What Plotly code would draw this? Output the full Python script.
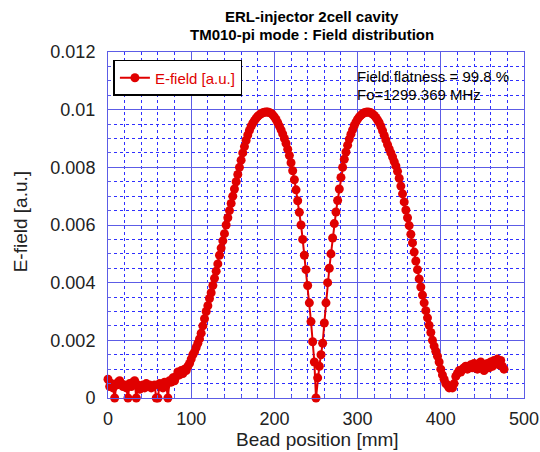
import plotly.graph_objects as go

# Bead position grid [mm] (2 mm step) and measured field values
position_mm = list(range(0, 478, 2))
efield = [
    0.00065, 0.00040, 0.00050, 0.00035, 0.0, 0.00045, 0.00055, 0.00060, 0.00050, 0.00040,
    0.00045, 0.00035, 0.0, 0.00050, 0.00040, 0.00055, 0.00060, 0.0, 0.00045, 0.00030,
    0.00040, 0.00045, 0.00035, 0.00050, 0.00040, 0.00045, 0.00035, 0.00040, 0.00045, 0.0,
    0.0, 0.00050, 0.00040, 0.00035, 0.00055, 0.00045, 0.0, 0.00060, 0.00055, 0.00070,
    0.00060, 0.00075, 0.00090, 0.00080, 0.00095, 0.00085, 0.00100, 0.00095, 0.00110, 0.00120,
    0.00135, 0.00150, 0.00160, 0.00175, 0.00190, 0.00205, 0.00225, 0.00250, 0.00275, 0.00300,
    0.00320, 0.00345, 0.00365, 0.00390, 0.00415, 0.00440, 0.00465, 0.00495, 0.00520, 0.00545,
    0.00570, 0.00600, 0.00625, 0.00650, 0.00675, 0.00700, 0.00725, 0.00750, 0.00775, 0.00800,
    0.00825, 0.00850, 0.00872, 0.00893, 0.00912, 0.00928, 0.00942, 0.00953, 0.00962, 0.00970,
    0.00977, 0.00982, 0.00986, 0.00989, 0.00991, 0.00992, 0.00992, 0.00990, 0.00987, 0.00982,
    0.00975, 0.00966, 0.00955, 0.00943, 0.00930, 0.00916, 0.00900, 0.00883, 0.00863, 0.00841,
    0.00816, 0.00788, 0.00757, 0.00722, 0.00684, 0.00644, 0.00600, 0.00550, 0.00495, 0.00445,
    0.00390, 0.00330, 0.00265, 0.00195, 0.00125, 0.0, 0.00070, 0.00110, 0.00150, 0.00190,
    0.00260, 0.00330, 0.00400, 0.00450, 0.00500, 0.00555, 0.00605, 0.00645, 0.00685, 0.00725,
    0.00765, 0.00800, 0.00828, 0.00853, 0.00877, 0.00898, 0.00915, 0.00930, 0.00945, 0.00957,
    0.00967, 0.00975, 0.00981, 0.00986, 0.00989, 0.00991, 0.00992, 0.00991, 0.00989, 0.00985,
    0.00980, 0.00973, 0.00964, 0.00955, 0.00942, 0.00927, 0.00911, 0.00895, 0.00879, 0.00864,
    0.00850, 0.00836, 0.00820, 0.00805, 0.00786, 0.00762, 0.00735, 0.00708, 0.00680, 0.00652,
    0.00625, 0.00598, 0.00568, 0.00538, 0.00506, 0.00475, 0.00445, 0.00413, 0.00385, 0.00357,
    0.00330, 0.00303, 0.00278, 0.00252, 0.00227, 0.00200, 0.00180, 0.00162, 0.00145, 0.00125,
    0.00100, 0.00080, 0.00065, 0.00050, 0.00045, 0.00035, 0.00040, 0.00035, 0.00050, 0.00075,
    0.00085, 0.00095, 0.00090, 0.00100, 0.00105, 0.00110, 0.00100, 0.00110, 0.00115, 0.00105,
    0.00120, 0.00110, 0.00100, 0.00120, 0.00125, 0.00110, 0.00095, 0.00115, 0.00120, 0.00105,
    0.00125, 0.00110, 0.00130, 0.00120, 0.00135, 0.00115, 0.00130, 0.00110, 0.00100,
]

x_ticks = [0, 100, 200, 300, 400, 500]
x_tick_labels = ["0", "100", "200", "300", "400", "500"]
y_ticks = [0, 0.002, 0.004, 0.006, 0.008, 0.01, 0.012]
y_tick_labels = ["0", "0.002", "0.004", "0.006", "0.008", "0.01", "0.012"]

title_lines = ["ERL-injector 2cell cavity", "TM010-pi mode : Field distribution"]
info_lines = ["Field flatness = 99.8 %", "Fo=1299.369 MHz"]

RED = "#e00000"
MAJOR = "#5c5ce6"
MINOR = "#2f2fff"
FONT = "Liberation Sans, Arial, sans-serif"

fig = go.Figure()
fig.add_trace(go.Scatter(
    x=position_mm, y=efield, mode="lines+markers", name="E-field [a.u.]",
    line=dict(color=RED, width=2),
    marker=dict(color=RED, size=9, symbol="circle"),
    cliponaxis=False,
))

axis_common = dict(
    showline=True, linecolor=MAJOR, linewidth=1, mirror=True,
    showgrid=True, gridcolor=MAJOR, gridwidth=1,
    ticks="inside", ticklen=5, tickcolor=MAJOR,
    zeroline=False, automargin=False,
    tickfont=dict(family=FONT, size=18, color="#222222"),
)

fig.update_xaxes(
    range=[0, 500], tickvals=x_ticks, ticktext=x_tick_labels,
    minor=dict(dtick=20, showgrid=True, gridcolor=MINOR, griddash="dot", gridwidth=1,
               ticks="inside", ticklen=3, tickcolor=MAJOR),
    ticklabelstandoff=4,
    **axis_common,
)
fig.update_yaxes(
    range=[0, 0.012], tickvals=y_ticks, ticktext=y_tick_labels,
    minor=dict(dtick=0.0005, showgrid=True, gridcolor=MINOR, griddash="dot", gridwidth=1,
               ticks="inside", ticklen=3, tickcolor=MAJOR),
    ticklabelstandoff=8,
    **axis_common,
)

annotations = [
    dict(text="<b>%s</b>" % title_lines[0], x=0.49, y=1.102, xref="paper", yref="paper",
         xanchor="center", yanchor="middle", showarrow=False,
         font=dict(family=FONT, size=15, color="black")),
    dict(text="<b>%s</b>" % title_lines[1], x=0.49, y=1.051, xref="paper", yref="paper",
         xanchor="center", yanchor="middle", showarrow=False,
         font=dict(family=FONT, size=15, color="black")),
    dict(text=info_lines[0], x=0.594, y=0.9306, xref="paper", yref="paper",
         xanchor="left", yanchor="middle", showarrow=False,
         font=dict(family=FONT, size=15, color="black")),
    dict(text=info_lines[1], x=0.594, y=0.8786, xref="paper", yref="paper",
         xanchor="left", yanchor="middle", showarrow=False,
         font=dict(family=FONT, size=15, color="black")),
    dict(text="Bead position [mm]", x=0.504, y=-0.1185, xref="paper", yref="paper",
         xanchor="center", yanchor="middle", showarrow=False,
         font=dict(family=FONT, size=19, color="#222222")),
    dict(text="E-field [a.u.]", x=-0.2105, y=0.509, xref="paper", yref="paper",
         xanchor="center", yanchor="middle", showarrow=False, textangle=-90,
         font=dict(family=FONT, size=19, color="#222222")),
]

fig.update_layout(
    width=540, height=452,
    margin=dict(l=108, r=16, t=52, b=54),
    paper_bgcolor="white", plot_bgcolor="white",
    showlegend=True,
    legend=dict(x=0.013, y=0.977, xanchor="left", yanchor="top",
                bgcolor="white", bordercolor="black", borderwidth=1.5,
                font=dict(family=FONT, size=15, color=RED)),
    annotations=annotations,
)

fig.write_html("out.html",
               config={"displayModeBar": False},
               post_script="document.body.style.margin='0';document.body.style.overflow='hidden';")
